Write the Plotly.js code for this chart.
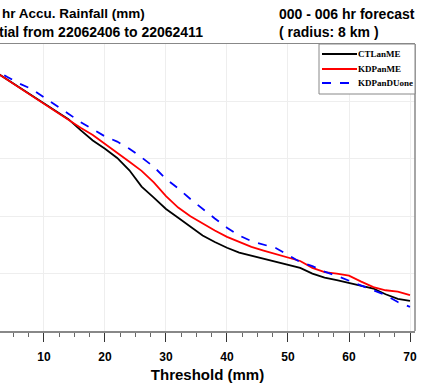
<!DOCTYPE html>
<html>
<head>
<meta charset="utf-8">
<script src="https://cdn.plot.ly/plotly-3.0.1.min.js"></script>
<style>html,body{margin:0;padding:0;background:#fff;}#chart{width:424px;height:385px;}</style>
</head>
<body>
<div id="chart"></div>
<script>
// Threshold (mm)
const thresholds = [1,2,4,6,8,10,12,14,16,18,20,22,24,26,28,30,32,34,36,38,40,42,44,46,48,50,52,54,56,58,60,62,64,66,68,70];
const ctlanME = [0.917,0.903,0.876,0.848,0.820,0.792,0.765,0.738,0.700,0.664,0.635,0.603,0.560,0.503,0.465,0.425,0.395,0.365,0.333,0.310,0.290,0.273,0.262,0.252,0.240,0.230,0.220,0.200,0.186,0.177,0.168,0.158,0.148,0.128,0.112,0.105];
const kdpanME = [0.917,0.903,0.876,0.848,0.820,0.792,0.765,0.738,0.708,0.683,0.652,0.624,0.590,0.558,0.518,0.470,0.430,0.400,0.375,0.350,0.328,0.311,0.293,0.280,0.268,0.256,0.244,0.220,0.205,0.200,0.193,0.172,0.153,0.142,0.137,0.125];
const kdpanDUone = [0.925,0.910,0.885,0.862,0.843,0.815,0.788,0.757,0.728,0.703,0.678,0.660,0.635,0.605,0.572,0.530,0.497,0.460,0.425,0.392,0.360,0.333,0.313,0.302,0.289,0.265,0.240,0.226,0.207,0.192,0.175,0.157,0.140,0.125,0.101,0.084];
const seriesNames = ['CTLanME','KDPanME','KDPanDUone'];
const seriesColors = ['#000000','#ff0000','#0000ff'];
const seriesDash = ['solid','solid','dash'];
const xTickVals = [10,20,30,40,50,60,70];
const titleLeft1 = 'hr Accu. Rainfall (mm)';
const titleLeft2 = 'tial from 22062406 to 22062411';
const titleRight1 = '000 - 006 hr forecast';
const titleRight2 = '( radius: 8 km )';

const W = 424, H = 385;
const M = {l:0, r:9, t:44, b:54};
const pw = W - M.l - M.r, ph = H - M.t - M.b;
const px = v => (v - M.l) / pw;          // pixel x -> paper
const py = v => (H - M.b - v) / ph;      // pixel y -> paper

const seriesData = [ctlanME, kdpanME, kdpanDUone];
const traces = seriesData.map((ys, i) => ({
  x: thresholds, y: ys, name: seriesNames[i], mode:'lines', showlegend:false,
  line:{color:seriesColors[i], width:1.8, dash:seriesDash[i]}
}));

const boldSans = {family:'Liberation Sans, Arial, sans-serif', size:14, color:'#000', weight:'bold'};
const boldSansS = {family:'Liberation Sans, Arial, sans-serif', size:13.5, color:'#000', weight:'bold'};
const legFont = {family:'Liberation Serif, Times New Roman, serif', size:9, color:'#000', weight:'bold'};

const shapes = [
  {type:'line', xref:'paper', yref:'paper', x0:1, x1:1, y0:0, y1:1, line:{color:'#888', width:1.5}},
  {type:'rect', xref:'paper', yref:'paper', x0:px(319), x1:1, y0:py(94), y1:1, fillcolor:'#fff', line:{color:'#888', width:1}, layer:'above'}
];
const annotations = [
  {text:titleLeft1, xref:'paper', yref:'paper', x:px(0), y:py(14), xanchor:'left', yanchor:'middle', showarrow:false, font:boldSansS},
  {text:titleLeft2, xref:'paper', yref:'paper', x:px(205), y:py(32), xanchor:'right', yanchor:'middle', showarrow:false, font:boldSans},
  {text:titleRight1, xref:'paper', yref:'paper', x:px(277), y:py(14), xanchor:'left', yanchor:'middle', showarrow:false, font:boldSans},
  {text:titleRight2, xref:'paper', yref:'paper', x:px(277), y:py(32), xanchor:'left', yanchor:'middle', showarrow:false, font:boldSans}
];
const legY = [54, 69, 83];
seriesNames.forEach((n, i) => {
  shapes.push({type:'line', xref:'paper', yref:'paper', x0:px(322), x1:px(357), y0:py(legY[i]), y1:py(legY[i]),
    line:{color:seriesColors[i], width:1.8, dash:seriesDash[i]}, layer:'above'});
  annotations.push({text:n, xref:'paper', yref:'paper', x:px(357), y:py(legY[i]), xanchor:'left', yanchor:'middle',
    showarrow:false, font:legFont, borderpad:0});
});

const layout = {
  width: W, height: H,
  margin: M,
  paper_bgcolor:'#fff', plot_bgcolor:'#fff',
  showlegend: false,
  xaxis: {
    range:[2.79, 70.82],
    tickvals: xTickVals,
    ticks:'outside', ticklen:9, tickwidth:1, tickcolor:'#333',
    ticklabelstandoff: 5,
    minor:{dtick:2.5, tick0:0, ticks:'outside', ticklen:4, tickcolor:'#666', showgrid:false},
    showgrid:true, gridcolor:'#eeeeee', gridwidth:1,
    showline:true, mirror:true, linecolor:'#888', linewidth:1.5,
    zeroline:false,
    tickfont:{family:'Liberation Sans, Arial, sans-serif', size:12, color:'#000', weight:'bold'},
    title:{text:'Threshold (mm)', font:{family:'Liberation Sans, Arial, sans-serif', size:15, color:'#000', weight:'bold'}, standoff:6}
  },
  yaxis: {
    range:[0,1], dtick:0.2,
    showgrid:true, gridcolor:'#eeeeee', gridwidth:1,
    showline:false, zeroline:false, showticklabels:false, ticks:''
  },
  shapes: shapes,
  annotations: annotations
};

Plotly.newPlot('chart', traces, layout, {displayModeBar:false, staticPlot:true});
</script>
</body>
</html>
